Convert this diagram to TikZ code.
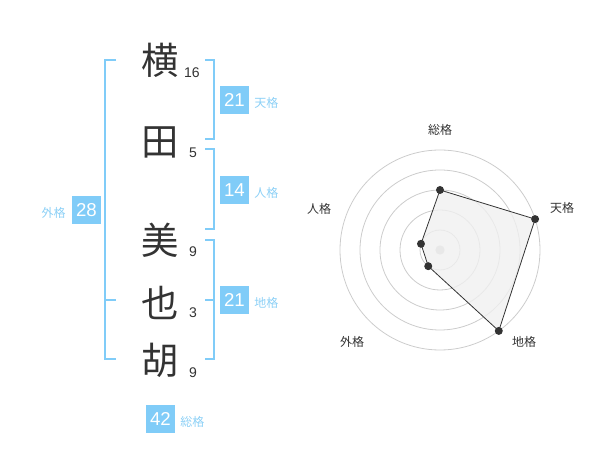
\documentclass[tikz,border=0pt]{standalone}
\usepackage{fontspec}
\usetikzlibrary{calc}
\setmainfont{Noto Sans CJK JP}
\newfontfamily\latinfont{Liberation Sans}
\definecolor{kblue}{RGB}{128,204,248}
\definecolor{klabel}{RGB}{140,208,246}
\definecolor{kdark}{RGB}{51,51,51}
\definecolor{kgrid}{RGB}{204,204,204}
\definecolor{kfill}{RGB}{240,240,240}
\begin{document}
\begin{tikzpicture}[x=0.75pt,y=-0.75pt,
  kanji/.style={font=\fontsize{28}{30}\selectfont,text=kdark,inner sep=0pt},
  stroke/.style={font=\latinfont\fontsize{10.5}{12}\selectfont,text=kdark,inner sep=0pt},
  numbox/.style={fill=kblue,text=white,font=\latinfont\fontsize{14}{16}\selectfont,minimum width=21.5pt,minimum height=21.5pt,inner sep=0pt},
  kaku/.style={font=\fontsize{9}{10}\selectfont,text=klabel,inner sep=0pt},
  bracket/.style={draw=kblue,line width=1.5pt},
  grid/.style={draw=kgrid,line width=0.6pt},
  rlabel/.style={font=\fontsize{9}{10}\selectfont,text=kdark,inner sep=0pt},
  dot/.style={circle,fill=kdark,inner sep=0pt,minimum size=6pt}]
\useasboundingbox (0,0) rectangle (600,470);
% characters
\node[kanji] (k1) at (160,60) {横};
\node[kanji] (k2) at (160,142) {田};
\node[kanji] (k3) at (160,240) {美};
\node[kanji] (k4) at (160,303) {也};
\node[kanji] (k5) at (160,360) {胡};
\node[stroke] (s1) at (192,73) {16};
\node[stroke] (s2) at (193,153) {5};
\node[stroke] (s3) at (193,252) {9};
\node[stroke] (s4) at (193,313) {3};
\node[stroke] (s5) at (193,373) {9};
% brackets
\draw[bracket] (205,60) -- (214,60) -- (214,139) -- (205,139);
\draw[bracket] (205,149) -- (214,149) -- (214,229) -- (205,229);
\draw[bracket] (205,240) -- (214,240) -- (214,359) -- (205,359);
\draw[bracket] (205,300) -- (214,300);
\draw[bracket] (116,60) -- (105,60) -- (105,359) -- (116,359);
\draw[bracket] (105,300) -- (116,300);
% boxes
\node[numbox] (ten) at (234.5,100) {21};
\node[kaku,anchor=west] (tenl) at (254,103) {天格};
\node[numbox] (jin) at (234.5,190) {14};
\node[kaku,anchor=west] (jinl) at (254,193) {人格};
\node[numbox] (chi) at (234.5,300) {21};
\node[kaku,anchor=west] (chil) at (254,303) {地格};
\node[numbox] (gai) at (86.5,210) {28};
\node[kaku,anchor=east] (gail) at (66,213) {外格};
\node[numbox] (sou) at (160.5,419) {42};
\node[kaku,anchor=west] (soul) at (180,422) {総格};
% radar
\coordinate (C) at (440,250);
\foreach \r in {15,30,45,60,75} \draw[grid] (C) circle[radius=\r pt];
\fill[kgrid] (C) circle[radius=3.5pt];
\coordinate (pS) at ($(C)+(-90:60)$);
\coordinate (pT) at ($(C)+(-18:100)$);
\coordinate (pC) at ($(C)+(54:100)$);
\coordinate (pG) at ($(C)+(126:20)$);
\coordinate (pJ) at ($(C)+(198:20)$);
\draw[kdark,line width=0.6pt,fill=kfill,fill opacity=0.8] (pS) -- (pT) -- (pC) -- (pG) -- (pJ) -- cycle;
\foreach \p in {pS,pT,pC,pG,pJ} \node[dot] at (\p) {};
\node[rlabel] (lS) at (440,130) {総格};
\node[rlabel] (lT) at (562,208) {天格};
\node[rlabel] (lJ) at (319,209) {人格};
\node[rlabel] (lG) at (352,342) {外格};
\node[rlabel] (lC) at (524,342) {地格};
\end{tikzpicture}
\end{document}
